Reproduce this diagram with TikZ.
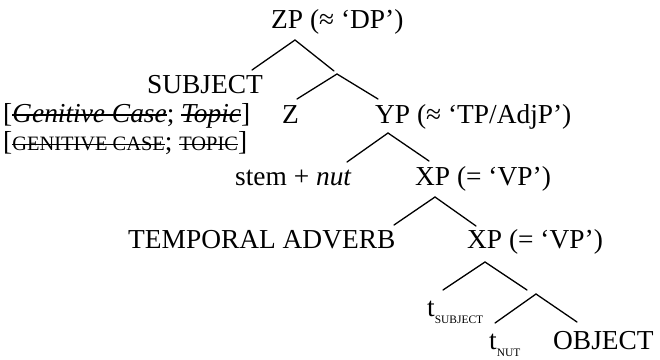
\documentclass[tikz,border=0pt]{standalone}
\usepackage{fontspec}
\setmainfont{Liberation Serif}
\newsavebox{\strikebox}
\newcommand{\strike}[1]{\sbox{\strikebox}{#1}%
    \rlap{\rule[.5ex]{\wd\strikebox}{1.7pt}}\usebox{\strikebox}}
\newcommand{\smcaps}[1]{{\fontsize{20.5}{22}\selectfont #1}}
\newcommand{\tsub}[1]{\raisebox{-7bp}{\fontsize{11.5}{12}\selectfont #1}}
\usetikzlibrary{positioning}

\begin{document}
\begin{tikzpicture}[x=1bp, y=-1bp,
    every node/.style={inner sep=0pt, anchor=base west,
        font=\fontsize{27.5}{30}\selectfont},
    branch/.style={line width=1.3bp, line cap=round}]
    \useasboundingbox (0,0) rectangle (660,359);

    \node (zp) at (271,28) {ZP (≈ ‘DP’)};
    \node (subj) at (147,93) {SUBJECT};
    \node (feat) at (3,122) {[\textit{\strike{Genitive Case}}; \textit{\strike{Topic}}]};
    \node (z) at (282,123) {Z};
    \node (yp) at (375,123) {YP (≈ ‘TP/AdjP’)};
    \node (featsc) at (3,150) {[\smcaps{\strike{GENITIVE CASE}}; \smcaps{\strike{TOPIC}}]};
    \node (stem) at (235,185) {stem + \textit{nut}};
    \node (xpa) at (415,185) {XP (= ‘VP’)};
    \node (adv) at (128,248) {TEMPORAL ADVERB};
    \node (xpb) at (467,248) {XP (= ‘VP’)};
    \node (ts) at (427,316) {t\tsub{SUBJECT}};
    \node (tn) at (489,349) {t\tsub{NUT}};
    \node (obj) at (553,349) {OBJECT};

    % branching points and line ends
    \coordinate (zp-b) at (295,40);
    \coordinate (subj-t) at (252,70);
    \coordinate (zbar-t) at (334,71);
    \coordinate (zbar-b) at (337,74);
    \coordinate (z-t) at (297,99);
    \coordinate (yp-t) at (378,99);
    \coordinate (yp-b) at (388,133);
    \coordinate (stem-t) at (347,162);
    \coordinate (xpa-t) at (429,161);
    \coordinate (xpa-b) at (435,197);
    \coordinate (adv-t) at (394,225);
    \coordinate (xpb-t) at (476,226);
    \coordinate (xpb-b) at (485,262);
    \coordinate (ts-t) at (443,290);
    \coordinate (vbar-t) at (527,290);
    \coordinate (vbar-b) at (536,294);
    \coordinate (tn-t) at (495,323);
    \coordinate (obj-t) at (577,322);

    \foreach \p/\l/\r in {zp-b/subj-t/zbar-t, zbar-b/z-t/yp-t,
        yp-b/stem-t/xpa-t, xpa-b/adv-t/xpb-t,
        xpb-b/ts-t/vbar-t, vbar-b/tn-t/obj-t}
        \draw[branch] (\l) -- (\p) -- (\r);

\end{tikzpicture}
\end{document}
